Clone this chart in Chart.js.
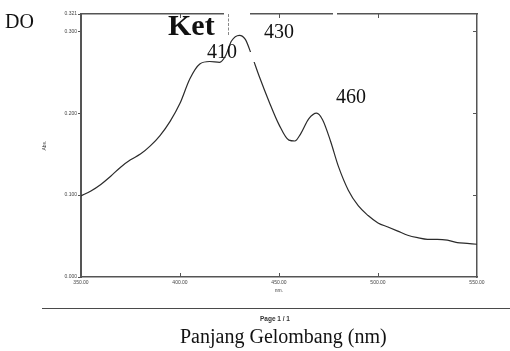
<!DOCTYPE html>
<html>
<head>
<meta charset="utf-8">
<script src="https://cdn.jsdelivr.net/npm/chart.js@4"></script>
<style>
body { margin: 0; background: #fff; }
#wrap { position: relative; width: 510px; height: 351px; }
.t { position: absolute; font-family: 'Liberation Serif', serif; color: #111; white-space: nowrap; line-height: 1; }
.blank { position: absolute; background: #fff; }
</style>
</head>
<body>
<div id="wrap">
  <canvas id="spectrum" width="510" height="351"></canvas>
  <div class="blank" style="left:224px;top:11px;width:26px;height:6px"></div>
  <div class="blank" style="left:333px;top:11px;width:4px;height:6px"></div>
  <div class="blank" style="left:250px;top:52px;width:6px;height:10px"></div>
  <div style="position:absolute;left:228px;top:14px;height:21px;border-left:1px dashed #888"></div>
  <div class="t" style="left:5px;top:11px;font-size:20px">DO</div>
  <div class="t" style="left:168px;top:10px;font-size:30px;font-weight:bold">Ket</div>
  <div class="t" id="p430" style="left:264px;top:21px;font-size:20px"></div>
  <div class="t" id="p410" style="left:207px;top:41px;font-size:20px"></div>
  <div class="t" id="p460" style="left:336px;top:86px;font-size:20px"></div>
  <div style="position:absolute;left:42px;top:308px;width:468px;border-top:1.5px solid #4a4a4a"></div>
  <div class="t" style="left:260px;top:316px;font-size:6.5px;font-family:'Liberation Sans',sans-serif;font-weight:bold;color:#333">Page 1 / 1</div>
  <div class="t" style="left:180px;top:326px;font-size:20px">Panjang Gelombang (nm)</div>
</div>
<script>
// spectrum
const wavelengths = [350, 355, 360, 365, 370, 375, 380, 385, 390, 395, 400, 405, 410, 415, 420, 423, 426, 430, 433, 436, 440, 445, 450, 455, 458, 461, 465, 469, 472, 476, 480, 485, 490, 495, 500, 505, 510, 515, 520, 525, 530, 535, 540, 545, 550];
const absorbance = [0.099, 0.105, 0.113, 0.123, 0.134, 0.143, 0.150, 0.160, 0.173, 0.190, 0.212, 0.242, 0.260, 0.263, 0.262, 0.270, 0.288, 0.295, 0.290, 0.272, 0.245, 0.214, 0.186, 0.167, 0.166, 0.175, 0.193, 0.200, 0.192, 0.166, 0.135, 0.106, 0.087, 0.075, 0.066, 0.061, 0.056, 0.051, 0.048, 0.046, 0.046, 0.045, 0.042, 0.041, 0.040];
const xTicks = [350, 400, 450, 500, 550];
const yTicks = [0, 0.1, 0.2, 0.3, 0.321];
const peakLabels = ['410', '430', '460'];

document.getElementById('p410').textContent = peakLabels[0];
document.getElementById('p430').textContent = peakLabels[1];
document.getElementById('p460').textContent = peakLabels[2];

const frameColor = '#555';
const labelFont = { family: 'Liberation Sans', size: 5 };

// small tick marks pointing into the plot (bottom, top, right)
const innerTicks = {
  id: 'innerTicks',
  afterDraw(chart) {
    const ctx = chart.ctx;
    const area = chart.chartArea;
    const x = chart.scales.x, y = chart.scales.y;
    ctx.save();
    ctx.strokeStyle = frameColor;
    ctx.lineWidth = 1;
    xTicks.slice(1, -1).forEach(v => {
      const px = Math.round(x.getPixelForValue(v)) + 0.5;
      ctx.beginPath();
      ctx.moveTo(px, area.bottom); ctx.lineTo(px, area.bottom - 4);
      ctx.moveTo(px, area.top); ctx.lineTo(px, area.top + 4);
      ctx.stroke();
    });
    yTicks.slice(1, -1).forEach(v => {
      const py = Math.round(y.getPixelForValue(v)) + 0.5;
      ctx.beginPath();
      ctx.moveTo(area.right, py); ctx.lineTo(area.right - 4, py);
      ctx.stroke();
    });
    ctx.restore();
  }
};

new Chart(document.getElementById('spectrum'), {
  type: 'line',
  data: {
    datasets: [{
      data: wavelengths.map((w, i) => ({ x: w, y: absorbance[i] })),
      borderColor: '#2b2b2b',
      borderWidth: 1.2,
      pointRadius: 0,
      cubicInterpolationMode: 'monotone'
    }]
  },
  options: {
    responsive: false,
    animation: false,
    layout: { padding: 0 },
    plugins: { legend: { display: false }, tooltip: { enabled: false } },
    scales: {
      x: {
        type: 'linear', position: 'bottom', min: 350, max: 550,
        afterBuildTicks: s => { s.ticks = xTicks.map(v => ({ value: v })); },
        afterFit: s => { s.height = 74; },
        ticks: { callback: v => v.toFixed(2), font: labelFont, color: '#444', padding: 3, maxRotation: 0, autoSkip: false },
        grid: { drawOnChartArea: false, drawTicks: false },
        border: { color: frameColor, width: 1.5 },
        title: { display: true, text: 'nm.', font: labelFont, color: '#444', padding: { top: 0, bottom: 57 } }
      },
      y: {
        type: 'linear', position: 'left', min: 0, max: 0.321,
        afterBuildTicks: s => { s.ticks = yTicks.map(v => ({ value: v })); },
        afterFit: s => { s.width = 81; },
        ticks: { callback: v => v.toFixed(3), font: labelFont, color: '#444', padding: 1, autoSkip: false },
        grid: { drawOnChartArea: false, drawTicks: true, tickLength: 3, color: frameColor },
        border: { color: frameColor, width: 2 },
        title: { display: true, text: 'Abs.', font: labelFont, color: '#444', padding: { top: 42, bottom: 0 } }
      },
      x2: {
        type: 'linear', position: 'top', min: 350, max: 550,
        afterFit: s => { s.height = 14; },
        ticks: { display: false },
        grid: { drawOnChartArea: false, drawTicks: false },
        border: { color: frameColor, width: 1.5 }
      },
      y2: {
        type: 'linear', position: 'right', min: 0, max: 0.321,
        afterFit: s => { s.width = 33; },
        ticks: { display: false },
        grid: { drawOnChartArea: false, drawTicks: false },
        border: { color: frameColor, width: 1.5 }
      }
    }
  },
  plugins: [innerTicks]
});
</script>
</body>
</html>
